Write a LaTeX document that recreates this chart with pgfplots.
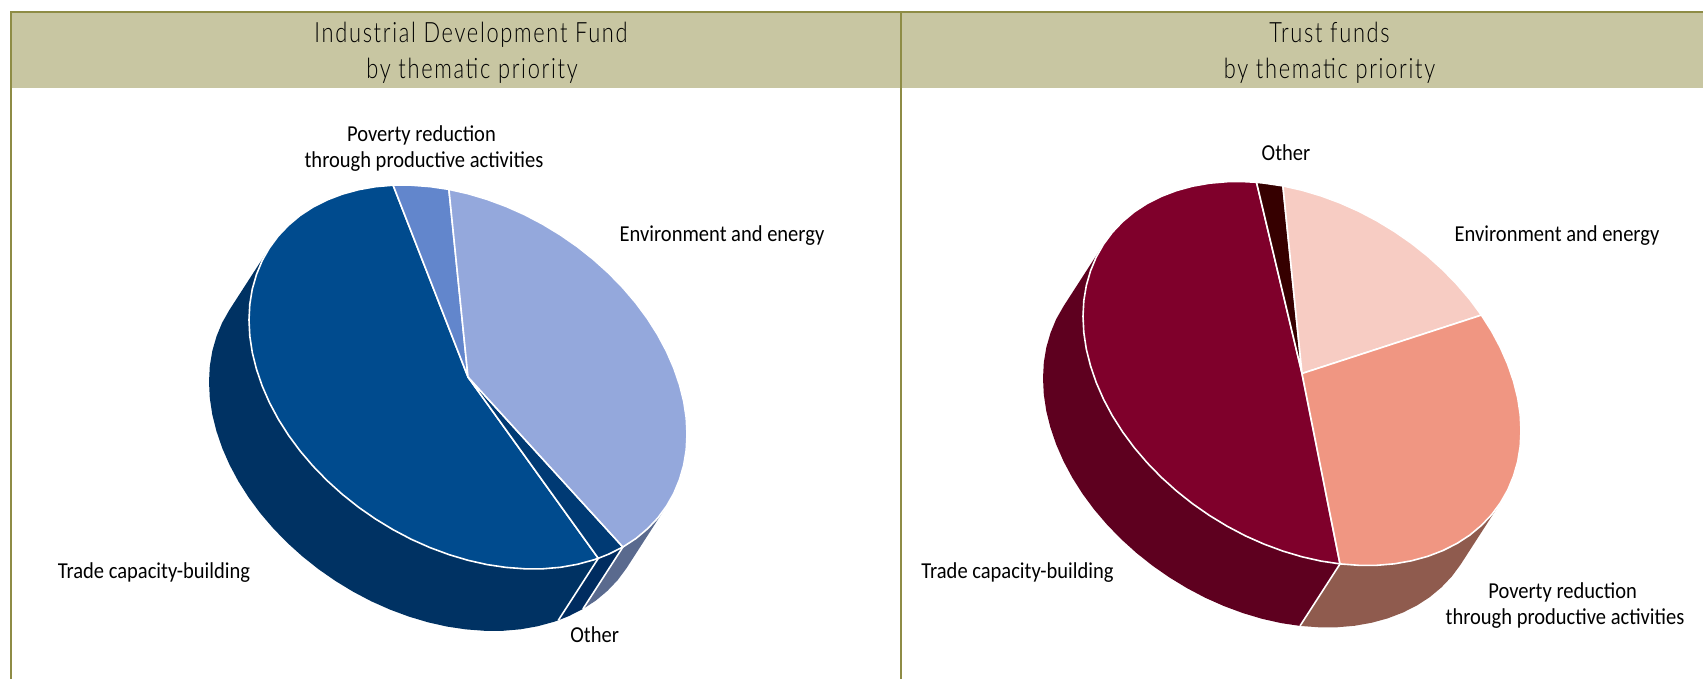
\documentclass[border=0pt]{standalone}
\usepackage{pgfplots}
\pgfplotsset{compat=1.18}
\usepackage{fontspec}
\setmainfont[FakeStretch=0.9]{Carlito}
\newfontfamily\titlefont[FakeStretch=0.78,LetterSpace=6]{Lato Light}
\definecolor{band}{HTML}{C8C6A2}
\definecolor{olive}{HTML}{8E8C45}
\definecolor{bEnv}{HTML}{94A8DC}
\definecolor{bPov}{HTML}{6286CC}
\definecolor{bTrade}{HTML}{004B8E}
\definecolor{bTradeS}{HTML}{003263}
\definecolor{bOth}{HTML}{003A74}
\definecolor{bOthS}{HTML}{002C60}
\definecolor{bEnvS}{HTML}{5A6A8E}
\definecolor{rEnv}{HTML}{F7CCC3}
\definecolor{rPov}{HTML}{F09682}
\definecolor{rTrade}{HTML}{7F002B}
\definecolor{rTradeS}{HTML}{5E001F}
\definecolor{rOth}{HTML}{360000}
\definecolor{rPovS}{HTML}{8F5B4E}
\tikzset{
  face/.style={draw=white, line width=0.8pt, line join=round},
  side/.style={draw=none},
  seam/.style={draw=white, line width=0.8pt},
  lab/.style={anchor=base, font=\fontsize{11.4}{13}\selectfont, text=black, inner sep=0pt},
  ttl/.style={anchor=base, font=\titlefont\fontsize{14}{16}\selectfont, text=black, inner sep=0pt},
}
\begin{document}
\begin{tikzpicture}
\path[use as bounding box] (0,0) rectangle (851.5pt,339.5pt);
\begin{axis}[
  hide axis, x=0.5pt, y=0.5pt, y dir=reverse,
  xmin=0, xmax=1703, ymin=0, ymax=679,
  scale only axis,
  anchor=south west, at={(0,0)},
  clip=true,
]
% header band and frame
\addplot[fill=band, draw=none] coordinates {(11,13) (1703,13) (1703,88) (11,88) (11,13)};
\addplot[draw=olive, line width=1pt] coordinates {(11,679) (11,12.5) (1703,12.5)};
\addplot[draw=olive, line width=1pt] coordinates {(901,12.5) (901,679)};

% LEFT PIE sides
\addplot[fill=bEnvS, side] coordinates {(666.5,506.2) (622.9,547) (582.9,609) (595.8,600.6) (607.4,590.9) (617.7,580.1) (626.5,568.2) (666.5,506.2)};
\addplot[fill=bOthS, side] coordinates {(622.9,547) (598.3,558.3) (558.3,620.3) (568.8,616.1) (582.9,609) (622.9,547)};
\addplot[fill=bTradeS, side] coordinates {(598.3,558.3) (468,377) (269.5,247.8)
 (229.5,309.8) (222.2,322.6) (216.5,336.4) (212.3,351) (209.8,366.1) (209,381.9) (209.8,398.1) (212.3,414.6) (216.5,431.3) (222.2,448) (229.5,464.7) (238.3,481.2) (248.6,497.4) (260.2,513.1) (273.1,528.2) (287.2,542.7) (302.4,556.4) (318.5,569.2) (335.5,581) (353.1,591.7) (371.3,601.3) (390,609.6) (408.9,616.6) (428,622.3) (447.1,626.6) (466,629.4) (484.7,630.8) (502.9,630.8) (520.5,629.3) (537.5,626.3) (553.6,621.9) (558.3,620.3) (598.3,558.3)};
\addplot[seam] coordinates {(598.3,558.3) (558.3,620.3)};
\addplot[seam] coordinates {(622.9,547) (582.9,609)};
% LEFT PIE top
\addplot[fill=bTrade, face] coordinates {(468,377) (598.3,558.3) (593.6,559.9) (577.5,564.3) (560.5,567.3) (542.9,568.8) (524.7,568.8) (506,567.4) (487.1,564.6) (468,560.3) (448.9,554.6) (430,547.6) (411.3,539.3) (393.1,529.7) (375.5,519) (358.5,507.2) (342.4,494.4) (327.2,480.7) (313.1,466.2) (300.2,451.1) (288.6,435.4) (278.3,419.2) (269.5,402.7) (262.2,386) (256.5,369.3) (252.3,352.6) (249.8,336.1) (249,319.9) (249.8,304.1) (252.3,289) (256.5,274.4) (262.2,260.6) (269.5,247.8) (278.3,235.9) (288.6,225.1) (300.2,215.4) (313.1,207) (327.2,199.9) (342.4,194.1) (358.5,189.7) (375.5,186.7) (393.1,185.2) (468,377)};
\addplot[fill=bOth, face] coordinates {(468,377) (622.9,547) (608.8,554.1) (598.3,558.3) (468,377)};
\addplot[fill=bPov, face] coordinates {(468,377) (393.1,185.2) (411.3,185.2) (430,186.6) (448.9,189.4) (468,377)};
\addplot[fill=bEnv, face] coordinates {(468,377) (448.9,189.4) (468,193.7) (487.1,199.4) (506,206.4) (524.7,214.7) (542.9,224.3) (560.5,235) (577.5,246.8) (593.6,259.6) (608.8,273.3) (622.9,287.8) (635.8,302.9) (647.4,318.6) (657.7,334.8) (666.5,351.3) (673.8,368) (679.5,384.7) (683.7,401.4) (686.2,417.9) (687,434.1) (686.2,449.9) (683.7,465.1) (679.5,479.6) (673.8,493.4) (666.5,506.2) (657.7,518.1) (647.4,528.9) (635.8,538.6) (622.9,547) (468,377)};

% RIGHT PIE sides
\addplot[fill=rPovS, side] coordinates {(1340,563.9) (1500.5,502.7) (1460.5,564.7) (1451.7,576.6) (1441.4,587.4) (1429.8,597.1) (1416.9,605.5) (1402.8,612.6) (1387.6,618.4) (1371.5,622.8) (1354.5,625.8) (1336.9,627.3) (1318.7,627.3) (1300,625.9) (1340,563.9)};
\addplot[fill=rTradeS, side] coordinates {(1340,563.9) (1302,373.5) (1103.5,244.3)
 (1063.5,306.3) (1056.2,319.1) (1050.5,332.9) (1046.3,347.5) (1043.8,362.6) (1043,378.4) (1043.8,394.6) (1046.3,411.1) (1050.5,427.8) (1056.2,444.5) (1063.5,461.2) (1072.3,477.7) (1082.6,493.9) (1094.2,509.6) (1107.1,524.7) (1121.2,539.2) (1136.4,552.9) (1152.5,565.7) (1169.5,577.5) (1187.1,588.2) (1205.3,597.8) (1224,606.1) (1242.9,613.1) (1262,618.8) (1281.1,623.1) (1300,625.9) (1340,563.9)};
\addplot[seam] coordinates {(1340,563.9) (1300,625.9)};
% RIGHT PIE top
\addplot[fill=rTrade, face] coordinates {(1302,373.5) (1340,563.9) (1321.1,561.1) (1302,556.8) (1282.9,551.1) (1264,544.1) (1245.3,535.8) (1227.1,526.2) (1209.5,515.5) (1192.5,503.7) (1176.4,490.9) (1161.2,477.2) (1147.1,462.7) (1134.2,447.6) (1122.6,431.9) (1112.3,415.7) (1103.5,399.2) (1096.2,382.5) (1090.5,365.8) (1086.3,349.1) (1083.8,332.6) (1083,316.4) (1083.8,300.6) (1086.3,285.5) (1090.5,270.9) (1096.2,257.1) (1103.5,244.3) (1112.3,232.4) (1122.6,221.6) (1134.2,211.9) (1147.1,203.5) (1161.2,196.4) (1176.4,190.6) (1192.5,186.2) (1209.5,183.2) (1227.1,181.7) (1245.3,181.7) (1256.5,182.3) (1302,373.5)};
\addplot[fill=rOth, face] coordinates {(1302,373.5) (1256.5,182.3) (1264,183.1) (1282.9,185.9) (1302,373.5)};
\addplot[fill=rEnv, face] coordinates {(1302,373.5) (1282.9,185.9) (1302,190.2) (1321.1,195.9) (1340,202.9) (1358.7,211.2) (1376.9,220.8) (1394.5,231.5) (1411.5,243.3) (1427.6,256.1) (1442.8,269.8) (1456.9,284.3) (1469.8,299.4) (1481.4,315.1) (1302,373.5)};
\addplot[fill=rPov, face] coordinates {(1302,373.5) (1481.4,315.1) (1491.7,331.3) (1500.5,347.8) (1507.8,364.5) (1513.5,381.2) (1517.7,397.9) (1520.2,414.4) (1521,430.6) (1520.2,446.4) (1517.7,461.6) (1513.5,476.1) (1507.8,489.9) (1500.5,502.7) (1491.7,514.6) (1481.4,525.4) (1469.8,535.1) (1456.9,543.5) (1442.8,550.6) (1427.6,556.4) (1411.5,560.8) (1394.5,563.8) (1376.9,565.3) (1358.7,565.3) (1340,563.9) (1302,373.5)};

% titles
\node[ttl] at (axis cs:471,43) {Industrial Development Fund};
\node[ttl] at (axis cs:472,79) {by thematic priority};
\node[ttl] at (axis cs:1329.5,43) {Trust funds};
\node[ttl] at (axis cs:1329.5,79) {by thematic priority};
% labels
\node[lab] at (axis cs:421.5,141.7) {Poverty reduction};
\node[lab] at (axis cs:424,168) {through productive activities};
\node[lab] at (axis cs:722,242) {Environment and energy};
\node[lab] at (axis cs:154,578) {Trade capacity-building};
\node[lab] at (axis cs:594.7,642.7) {Other};
\node[lab] at (axis cs:1286,160.7) {Other};
\node[lab] at (axis cs:1557,242) {Environment and energy};
\node[lab] at (axis cs:1017.5,578) {Trade capacity-building};
\node[lab] at (axis cs:1562.6,598) {Poverty reduction};
\node[lab] at (axis cs:1565,624) {through productive activities};
\end{axis}
\end{tikzpicture}
\end{document}
